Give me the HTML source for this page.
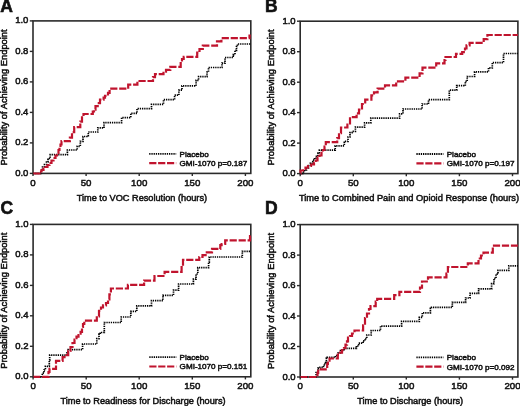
<!DOCTYPE html>
<html><head><meta charset="utf-8"><style>
html,body{margin:0;padding:0;background:#fff;overflow:hidden;width:520px;height:406px;}
svg{display:block;font-family:"Liberation Sans", sans-serif;will-change:transform;}
text{stroke:#111;stroke-width:0.5px;}
</style></head><body>
<svg width="520" height="406" viewBox="0 0 520 406">
<rect width="520" height="406" fill="#fff"/>
<text x="0.2" y="12.0" font-size="17.5" font-weight="bold" fill="#111" style="stroke-width:0.6px">A</text>
<rect x="33.0" y="20.9" width="217.8" height="152.5" fill="none" stroke="#2b2b2b" stroke-width="1.6"/>
<path d="M33.0 173.5H40.8V170.5H42.5V167.0H44.5V164.5H46.5V162.0H48.0V158.5H50.2V154.7H67.4V150.0H77.2V146.3H80.3V141.4H83.0V136.5H88.3V132.0H97.8V127.9H104.0V122.6H121.6V117.7H130.8V113.4H137.0V108.7H151.5V104.4H163.5V99.7H174.6V95.1H178.9V90.2H182.0V85.9H196.1V80.3H198.6V76.6H207.0V72.0H208.5V67.5H222.0V63.2H225.0V57.5H233.2V54.6H235.0V50.3H236.5V46.6H237.5V44.0H250.8" fill="none" stroke="#000" stroke-width="1.7" stroke-dasharray="1.3 0.9"/>
<path d="M33.0 173.5H39.5V171.5H41.5V170.0H43.5V168.5H45.5V167.0H47.5V165.0H49.5V163.0H51.5V160.5H53.5V158.0H55.5V155.5H57.0V153.0H58.5V150.0H59.5V147.0H60.5V144.5H61.5V141.2H69.9V137.7H72.0V132.2H74.2V127.2H80.3V121.7H82.0V117.4H83.5V114.0H92.8V111.5H94.0V109.6H95.5V106.1H97.7V103.2H100.0V99.7H103.6V97.7H105.0V95.8H108.0V92.8H109.6V88.7H128.2V84.6H137.4V81.0H153.0V77.2H155.0V74.2H163.5V71.7H166.0V69.9H170.3V66.8H180.7V62.0H182.0V59.0H183.7V56.8H197.2V52.7H199.5V49.0H202.8V45.7H217.0V41.3H221.4V38.2H249.5V35.5H250.8" fill="none" stroke="#c0142e" stroke-width="2.2" stroke-dasharray="7.2 1.8"/>
<line x1="29.8" y1="173.4" x2="33.0" y2="173.4" stroke="#2b2b2b" stroke-width="1.4"/>
<text x="28.4" y="175.9" font-size="9.5" text-anchor="end" fill="#111">0.0</text>
<line x1="29.8" y1="142.9" x2="33.0" y2="142.9" stroke="#2b2b2b" stroke-width="1.4"/>
<text x="28.4" y="145.4" font-size="9.5" text-anchor="end" fill="#111">0.2</text>
<line x1="29.8" y1="112.4" x2="33.0" y2="112.4" stroke="#2b2b2b" stroke-width="1.4"/>
<text x="28.4" y="114.9" font-size="9.5" text-anchor="end" fill="#111">0.4</text>
<line x1="29.8" y1="81.9" x2="33.0" y2="81.9" stroke="#2b2b2b" stroke-width="1.4"/>
<text x="28.4" y="84.4" font-size="9.5" text-anchor="end" fill="#111">0.6</text>
<line x1="29.8" y1="51.4" x2="33.0" y2="51.4" stroke="#2b2b2b" stroke-width="1.4"/>
<text x="28.4" y="53.9" font-size="9.5" text-anchor="end" fill="#111">0.8</text>
<line x1="29.8" y1="20.9" x2="33.0" y2="20.9" stroke="#2b2b2b" stroke-width="1.4"/>
<text x="28.4" y="23.4" font-size="9.5" text-anchor="end" fill="#111">1.0</text>
<line x1="33.0" y1="173.4" x2="33.0" y2="176.0" stroke="#2b2b2b" stroke-width="1.4"/>
<text x="33.0" y="186.3" font-size="9.7" text-anchor="middle" fill="#111">0</text>
<line x1="86.1" y1="173.4" x2="86.1" y2="176.0" stroke="#2b2b2b" stroke-width="1.4"/>
<text x="86.1" y="186.3" font-size="9.7" text-anchor="middle" fill="#111">50</text>
<line x1="139.2" y1="173.4" x2="139.2" y2="176.0" stroke="#2b2b2b" stroke-width="1.4"/>
<text x="139.2" y="186.3" font-size="9.7" text-anchor="middle" fill="#111">100</text>
<line x1="192.3" y1="173.4" x2="192.3" y2="176.0" stroke="#2b2b2b" stroke-width="1.4"/>
<text x="192.3" y="186.3" font-size="9.7" text-anchor="middle" fill="#111">150</text>
<line x1="245.4" y1="173.4" x2="245.4" y2="176.0" stroke="#2b2b2b" stroke-width="1.4"/>
<text x="245.4" y="186.3" font-size="9.7" text-anchor="middle" fill="#111">200</text>
<text x="141.9" y="201.2" font-size="9.2" text-anchor="middle" fill="#111">Time to VOC Resolution (hours)</text>
<text transform="translate(7.1,97.4) rotate(-90)" font-size="9.35" text-anchor="middle" fill="#111">Probability of Achieving Endpoint</text>
<line x1="149.2" y1="153.8" x2="176.2" y2="153.8" stroke="#000" stroke-width="1.8" stroke-dasharray="1.3 0.9"/>
<line x1="149.2" y1="163.1" x2="176.2" y2="163.1" stroke="#c0142e" stroke-width="2.2" stroke-dasharray="7.2 1.7"/>
<text x="179.5" y="156.7" font-size="8.1" fill="#111">Placebo</text>
<text x="179.5" y="166.0" font-size="8.1" fill="#111">GMI-1070 p=0.187</text>
<text x="265.0" y="12.4" font-size="17.5" font-weight="bold" fill="#111" style="stroke-width:0.6px">B</text>
<rect x="300.2" y="21.2" width="217.7" height="152.4" fill="none" stroke="#2b2b2b" stroke-width="1.6"/>
<path d="M300.2 173.6H302.5V172.0H304.5V170.0H306.5V168.0H308.5V165.5H310.5V163.0H312.8V160.0H314.5V158.0H316.5V155.5H318.0V153.0H319.4V150.2H335.2V145.8H344.3V141.3H348.0V137.0H350.0V132.6H352.0V131.4H355.4V127.1H364.6V122.8H370.8V118.1H399.6V113.8H403.0V109.0H422.1V104.0H428.5V99.7H449.3V90.1H456.7V85.7H465.3V81.4H467.2V76.5H474.6V71.9H488.5V67.9H492.3V62.6H503.5V53.5H517.9" fill="none" stroke="#000" stroke-width="1.7" stroke-dasharray="1.3 0.9"/>
<path d="M300.2 173.6H300.5V170.5H303.0V169.0H305.5V167.5H308.0V166.0H311.0V164.5H314.0V163.0H315.7V160.5H317.5V157.5H319.5V155.5H321.5V152.8H323.0V150.0H324.5V146.5H325.8V142.1H337.2V138.2H339.0V133.2H341.0V127.5H347.4V123.4H350.0V117.2H356.6V113.3H359.0V109.6H362.0V104.0H365.2V99.7H371.4V95.4H374.0V92.3H377.6V88.6H385.0V85.3H396.2V81.3H405.4V77.6H419.6V73.3H422.5V67.7H436.2V63.4H444.5V60.0H445.5V57.0H456.0V53.9H462.2V52.1H465.0V48.5H466.5V45.3H469.6V42.9H483.7V39.1H487.4V35.0H517.9" fill="none" stroke="#c0142e" stroke-width="2.2" stroke-dasharray="7.2 1.8"/>
<line x1="297.0" y1="173.6" x2="300.2" y2="173.6" stroke="#2b2b2b" stroke-width="1.4"/>
<text x="295.6" y="176.1" font-size="9.5" text-anchor="end" fill="#111">0.0</text>
<line x1="297.0" y1="143.1" x2="300.2" y2="143.1" stroke="#2b2b2b" stroke-width="1.4"/>
<text x="295.6" y="145.6" font-size="9.5" text-anchor="end" fill="#111">0.2</text>
<line x1="297.0" y1="112.6" x2="300.2" y2="112.6" stroke="#2b2b2b" stroke-width="1.4"/>
<text x="295.6" y="115.1" font-size="9.5" text-anchor="end" fill="#111">0.4</text>
<line x1="297.0" y1="82.2" x2="300.2" y2="82.2" stroke="#2b2b2b" stroke-width="1.4"/>
<text x="295.6" y="84.7" font-size="9.5" text-anchor="end" fill="#111">0.6</text>
<line x1="297.0" y1="51.7" x2="300.2" y2="51.7" stroke="#2b2b2b" stroke-width="1.4"/>
<text x="295.6" y="54.2" font-size="9.5" text-anchor="end" fill="#111">0.8</text>
<line x1="297.0" y1="21.2" x2="300.2" y2="21.2" stroke="#2b2b2b" stroke-width="1.4"/>
<text x="295.6" y="23.7" font-size="9.5" text-anchor="end" fill="#111">1.0</text>
<line x1="300.2" y1="173.6" x2="300.2" y2="176.2" stroke="#2b2b2b" stroke-width="1.4"/>
<text x="300.2" y="185.8" font-size="9.7" text-anchor="middle" fill="#111">0</text>
<line x1="353.3" y1="173.6" x2="353.3" y2="176.2" stroke="#2b2b2b" stroke-width="1.4"/>
<text x="353.3" y="185.8" font-size="9.7" text-anchor="middle" fill="#111">50</text>
<line x1="406.3" y1="173.6" x2="406.3" y2="176.2" stroke="#2b2b2b" stroke-width="1.4"/>
<text x="406.3" y="185.8" font-size="9.7" text-anchor="middle" fill="#111">100</text>
<line x1="459.4" y1="173.6" x2="459.4" y2="176.2" stroke="#2b2b2b" stroke-width="1.4"/>
<text x="459.4" y="185.8" font-size="9.7" text-anchor="middle" fill="#111">150</text>
<line x1="512.5" y1="173.6" x2="512.5" y2="176.2" stroke="#2b2b2b" stroke-width="1.4"/>
<text x="512.5" y="185.8" font-size="9.7" text-anchor="middle" fill="#111">200</text>
<text x="409.0" y="201.4" font-size="9.27" text-anchor="middle" fill="#111">Time to Combined Pain and Opioid Response (hours)</text>
<text transform="translate(273.5,97.5) rotate(-90)" font-size="9.35" text-anchor="middle" fill="#111">Probability of Achieving Endpoint</text>
<line x1="416.4" y1="154.0" x2="443.4" y2="154.0" stroke="#000" stroke-width="1.8" stroke-dasharray="1.3 0.9"/>
<line x1="416.4" y1="163.3" x2="443.4" y2="163.3" stroke="#c0142e" stroke-width="2.2" stroke-dasharray="7.2 1.7"/>
<text x="446.7" y="156.9" font-size="8.1" fill="#111">Placebo</text>
<text x="446.7" y="166.2" font-size="8.1" fill="#111">GMI-1070 p=0.197</text>
<text x="0.4" y="213.9" font-size="17.5" font-weight="bold" fill="#111" style="stroke-width:0.6px">C</text>
<rect x="33.1" y="224.4" width="217.7" height="152.4" fill="none" stroke="#2b2b2b" stroke-width="1.6"/>
<path d="M33.1 376.8H42.3V373.1H44.0V370.0H45.4V366.3H49.3V360.2H49.7V355.2H67.0V352.8H68.2V349.6H82.6V344.0H96.8V338.6H99.0V334.0H100.2V332.5H104.3V322.5H121.2V317.0H130.8V311.4H136.8V305.9H151.5V300.7H162.9V295.3H173.5V290.2H178.6V284.0H193.4V279.1H196.0V274.0H197.8V267.6H208.6V262.2H209.3V257.0H242.3V251.4H250.8" fill="none" stroke="#000" stroke-width="1.7" stroke-dasharray="1.3 0.9"/>
<path d="M33.1 376.8H48.5V372.0H49.5V368.8H56.0V360.8H62.6V357.1H64.5V355.2H68.2V350.9H70.5V347.0H72.5V343.0H74.5V339.5H76.5V336.6H78.5V333.7H80.6V331.8H82.0V327.0H83.0V324.0H84.3V320.6H96.8V316.3H99.0V310.8H101.0V307.5H103.0V305.4H106.0V303.0H108.0V299.5H109.4V294.4H110.9V288.5H127.9V284.8H144.1V280.6H154.5V276.0H164.6V271.8H181.6V266.0H183.0V259.9H199.3V257.0H202.5V255.2H206.8V252.4H212.0V248.9H220.3V245.2H221.6V244.0H225.2V240.3H250.0V236.0H250.8" fill="none" stroke="#c0142e" stroke-width="2.2" stroke-dasharray="7.2 1.8"/>
<line x1="29.900000000000002" y1="376.8" x2="33.1" y2="376.8" stroke="#2b2b2b" stroke-width="1.4"/>
<text x="28.5" y="379.3" font-size="9.5" text-anchor="end" fill="#111">0.0</text>
<line x1="29.900000000000002" y1="346.3" x2="33.1" y2="346.3" stroke="#2b2b2b" stroke-width="1.4"/>
<text x="28.5" y="348.8" font-size="9.5" text-anchor="end" fill="#111">0.2</text>
<line x1="29.900000000000002" y1="315.8" x2="33.1" y2="315.8" stroke="#2b2b2b" stroke-width="1.4"/>
<text x="28.5" y="318.3" font-size="9.5" text-anchor="end" fill="#111">0.4</text>
<line x1="29.900000000000002" y1="285.4" x2="33.1" y2="285.4" stroke="#2b2b2b" stroke-width="1.4"/>
<text x="28.5" y="287.9" font-size="9.5" text-anchor="end" fill="#111">0.6</text>
<line x1="29.900000000000002" y1="254.9" x2="33.1" y2="254.9" stroke="#2b2b2b" stroke-width="1.4"/>
<text x="28.5" y="257.4" font-size="9.5" text-anchor="end" fill="#111">0.8</text>
<line x1="29.900000000000002" y1="224.4" x2="33.1" y2="224.4" stroke="#2b2b2b" stroke-width="1.4"/>
<text x="28.5" y="226.9" font-size="9.5" text-anchor="end" fill="#111">1.0</text>
<line x1="33.1" y1="376.8" x2="33.1" y2="379.4" stroke="#2b2b2b" stroke-width="1.4"/>
<text x="33.1" y="388.7" font-size="9.7" text-anchor="middle" fill="#111">0</text>
<line x1="86.2" y1="376.8" x2="86.2" y2="379.4" stroke="#2b2b2b" stroke-width="1.4"/>
<text x="86.2" y="388.7" font-size="9.7" text-anchor="middle" fill="#111">50</text>
<line x1="139.2" y1="376.8" x2="139.2" y2="379.4" stroke="#2b2b2b" stroke-width="1.4"/>
<text x="139.2" y="388.7" font-size="9.7" text-anchor="middle" fill="#111">100</text>
<line x1="192.3" y1="376.8" x2="192.3" y2="379.4" stroke="#2b2b2b" stroke-width="1.4"/>
<text x="192.3" y="388.7" font-size="9.7" text-anchor="middle" fill="#111">150</text>
<line x1="245.4" y1="376.8" x2="245.4" y2="379.4" stroke="#2b2b2b" stroke-width="1.4"/>
<text x="245.4" y="388.7" font-size="9.7" text-anchor="middle" fill="#111">200</text>
<text x="143.0" y="403.7" font-size="9.2" text-anchor="middle" fill="#111">Time to Readiness for Discharge (hours)</text>
<text transform="translate(6.9,300.7) rotate(-90)" font-size="9.35" text-anchor="middle" fill="#111">Probability of Achieving Endpoint</text>
<line x1="149.3" y1="357.2" x2="176.3" y2="357.2" stroke="#000" stroke-width="1.8" stroke-dasharray="1.3 0.9"/>
<line x1="149.3" y1="366.5" x2="176.3" y2="366.5" stroke="#c0142e" stroke-width="2.2" stroke-dasharray="7.2 1.7"/>
<text x="179.6" y="360.1" font-size="8.1" fill="#111">Placebo</text>
<text x="179.6" y="369.4" font-size="8.1" fill="#111">GMI-1070 p=0.151</text>
<text x="265.0" y="214.4" font-size="17.5" font-weight="bold" fill="#111" style="stroke-width:0.6px">D</text>
<rect x="300.2" y="224.6" width="217.7" height="152.4" fill="none" stroke="#2b2b2b" stroke-width="1.6"/>
<path d="M300.2 377.0H316.1V372.5H318.0V368.1H320.0V367.4H323.5V365.9H324.2V363.7H325.7V362.6H326.4V358.1H327.2V357.4H335.5V355.5H338.0V353.0H340.5V350.5H344.0V348.4H356.4V346.0H358.7V343.1H363.1V340.9H365.0V338.6H366.8V335.0H371.2V330.5H380.5V326.1H401.6V321.4H419.3V317.3H422.3V312.8H430.4V308.4H431.6V307.4H452.3V302.4H465.6V298.0H470.0V293.4H478.6V288.9H491.6V283.6H494.0V278.4H496.0V274.1H498.0V270.4H508.8V265.9H517.9" fill="none" stroke="#000" stroke-width="1.7" stroke-dasharray="1.3 0.9"/>
<path d="M300.2 377.0H317.5V372.9H318.2V369.4H327.2V364.0H327.9V360.7H329.5V358.5H337.8V354.6H340.0V352.6H342.0V350.1H344.0V348.2H345.5V344.7H347.0V341.3H348.0V337.5H350.0V336.0H352.0V333.5H354.5V330.5H363.1V325.3H365.0V318.0H367.0V313.5H369.0V309.0H370.5V306.1H375.7V301.7H377.2V298.8H394.2V295.1H399.4V291.9H420.0V287.7H422.0V281.5H428.0V277.3H446.4V273.6H447.9V267.0H467.8V263.3H478.5V258.5H481.0V255.5H483.5V252.6H492.8V245.7H517.9" fill="none" stroke="#c0142e" stroke-width="2.2" stroke-dasharray="7.2 1.8"/>
<line x1="297.0" y1="377.0" x2="300.2" y2="377.0" stroke="#2b2b2b" stroke-width="1.4"/>
<text x="295.6" y="379.5" font-size="9.5" text-anchor="end" fill="#111">0.0</text>
<line x1="297.0" y1="346.5" x2="300.2" y2="346.5" stroke="#2b2b2b" stroke-width="1.4"/>
<text x="295.6" y="349.0" font-size="9.5" text-anchor="end" fill="#111">0.2</text>
<line x1="297.0" y1="316.0" x2="300.2" y2="316.0" stroke="#2b2b2b" stroke-width="1.4"/>
<text x="295.6" y="318.5" font-size="9.5" text-anchor="end" fill="#111">0.4</text>
<line x1="297.0" y1="285.6" x2="300.2" y2="285.6" stroke="#2b2b2b" stroke-width="1.4"/>
<text x="295.6" y="288.1" font-size="9.5" text-anchor="end" fill="#111">0.6</text>
<line x1="297.0" y1="255.1" x2="300.2" y2="255.1" stroke="#2b2b2b" stroke-width="1.4"/>
<text x="295.6" y="257.6" font-size="9.5" text-anchor="end" fill="#111">0.8</text>
<line x1="297.0" y1="224.6" x2="300.2" y2="224.6" stroke="#2b2b2b" stroke-width="1.4"/>
<text x="295.6" y="227.1" font-size="9.5" text-anchor="end" fill="#111">1.0</text>
<line x1="300.2" y1="377.0" x2="300.2" y2="379.6" stroke="#2b2b2b" stroke-width="1.4"/>
<text x="300.2" y="388.8" font-size="9.7" text-anchor="middle" fill="#111">0</text>
<line x1="353.3" y1="377.0" x2="353.3" y2="379.6" stroke="#2b2b2b" stroke-width="1.4"/>
<text x="353.3" y="388.8" font-size="9.7" text-anchor="middle" fill="#111">50</text>
<line x1="406.3" y1="377.0" x2="406.3" y2="379.6" stroke="#2b2b2b" stroke-width="1.4"/>
<text x="406.3" y="388.8" font-size="9.7" text-anchor="middle" fill="#111">100</text>
<line x1="459.4" y1="377.0" x2="459.4" y2="379.6" stroke="#2b2b2b" stroke-width="1.4"/>
<text x="459.4" y="388.8" font-size="9.7" text-anchor="middle" fill="#111">150</text>
<line x1="512.5" y1="377.0" x2="512.5" y2="379.6" stroke="#2b2b2b" stroke-width="1.4"/>
<text x="512.5" y="388.8" font-size="9.7" text-anchor="middle" fill="#111">200</text>
<text x="410.2" y="403.7" font-size="9.2" text-anchor="middle" fill="#111">Time to Discharge (hours)</text>
<text transform="translate(273.9,301.0) rotate(-90)" font-size="9.35" text-anchor="middle" fill="#111">Probability of Achieving Endpoint</text>
<line x1="416.4" y1="357.4" x2="443.4" y2="357.4" stroke="#000" stroke-width="1.8" stroke-dasharray="1.3 0.9"/>
<line x1="416.4" y1="366.7" x2="443.4" y2="366.7" stroke="#c0142e" stroke-width="2.2" stroke-dasharray="7.2 1.7"/>
<text x="446.7" y="360.3" font-size="8.1" fill="#111">Placebo</text>
<text x="446.7" y="369.6" font-size="8.1" fill="#111">GMI-1070 p=0.092</text>
</svg>
</body></html>
